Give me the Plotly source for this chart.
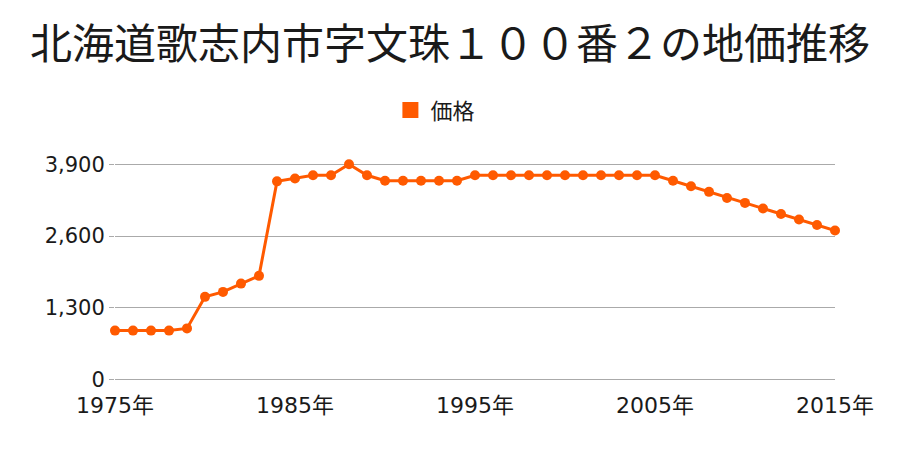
import plotly.graph_objects as go

years = list(range(1975, 2016))
prices = [890, 890, 890, 890, 930, 1500, 1590, 1740, 1880, 3590,
          3640, 3700, 3700, 3900, 3700, 3600, 3600, 3600, 3600, 3600,
          3700, 3700, 3700, 3700, 3700, 3700, 3700, 3700, 3700, 3700,
          3700, 3600, 3500, 3400, 3290, 3200, 3100, 3000, 2900, 2800,
          2700]
x_tick_vals = [1975, 1985, 1995, 2005, 2015]
x_tick_text = ["1975年", "1985年", "1995年", "2005年", "2015年"]
y_tick_vals = [0, 1300, 2600, 3900]
y_tick_text = ["0", "1,300", "2,600", "3,900"]
series_name = "価格"
title_text = "北海道歌志内市字文珠１００番２の地価推移"

COLOR = "#FF5A00"
FONT = "Noto Sans CJK JP"
TICKFONT = "DejaVu Sans, Noto Sans CJK JP"
TXT = "#1a1a1a"

fig = go.Figure()
fig.add_trace(go.Scatter(
    x=years, y=prices, mode="lines+markers", name=series_name,
    line=dict(color=COLOR, width=3),
    marker=dict(color=COLOR, size=10),
    cliponaxis=False, showlegend=False, legendgroup="p",
))
fig.add_trace(go.Scatter(
    x=[None], y=[None], mode="markers", name=series_name,
    marker=dict(color=COLOR, size=16, symbol="square"),
    showlegend=True, legendgroup="p",
))

fig.update_layout(
    width=900, height=450,
    margin=dict(l=115, r=65, t=162, b=68),
    paper_bgcolor="white", plot_bgcolor="white",
    font=dict(family=FONT, color=TXT),
    title=dict(text=title_text, x=0.5, xanchor="center", y=0.902, yanchor="middle",
               font=dict(size=42, family=FONT, color=TXT)),
    legend=dict(orientation="h", x=0.445, xanchor="center", y=1.235, yanchor="middle",
                font=dict(size=22, family=FONT, color=TXT),
                itemwidth=30, bgcolor="rgba(0,0,0,0)"),
    xaxis=dict(range=[1975, 2015], tickvals=x_tick_vals, ticktext=x_tick_text,
               showgrid=False, zeroline=False, showline=False, ticks="",
               ticklabelstandoff=8,
               tickfont=dict(size=22, family=TICKFONT, color=TXT)),
    yaxis=dict(range=[-40, 3940], tickvals=y_tick_vals, ticktext=y_tick_text,
               showgrid=True, gridcolor="#aaaaaa", gridwidth=1, zeroline=False,
               showline=False, ticks="outside", ticklen=5, tickcolor="#aaaaaa",
               tickfont=dict(size=21, family=TICKFONT, color=TXT)),
)

fig.write_html("out.html")
